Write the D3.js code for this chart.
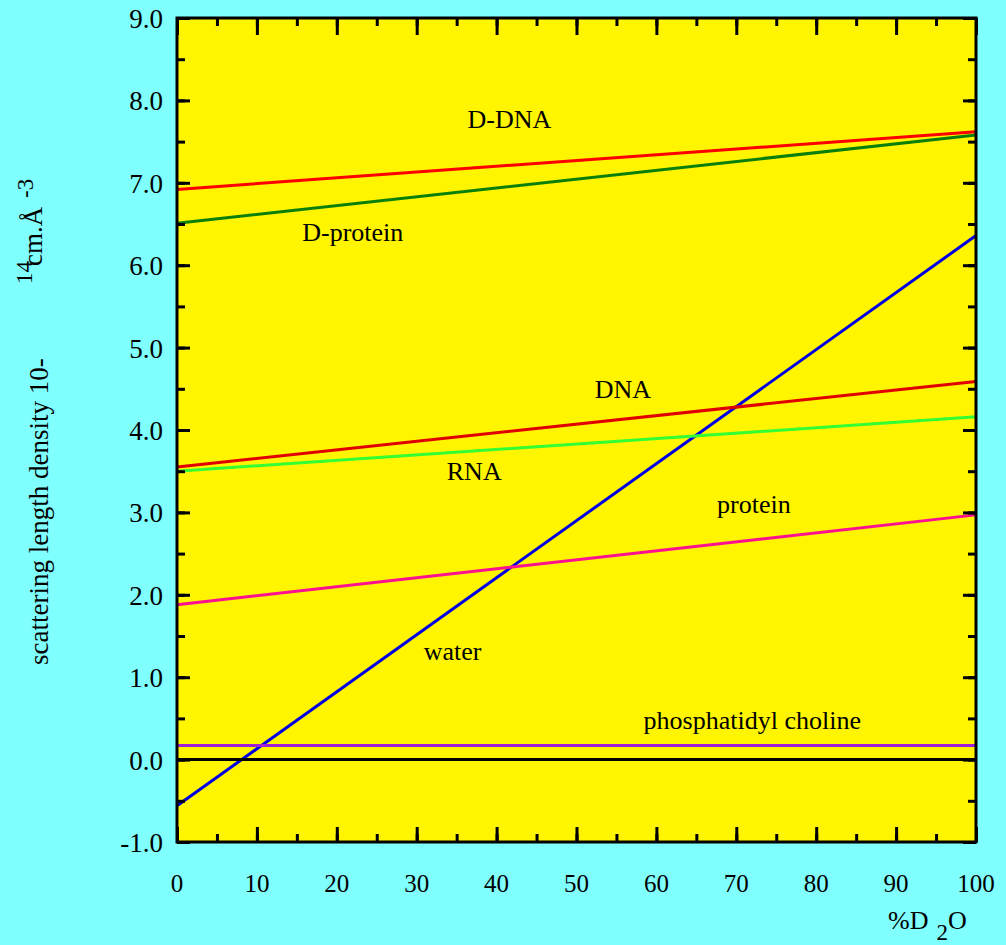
<!DOCTYPE html>
<html><head><meta charset="utf-8">
<script src="https://cdn.jsdelivr.net/npm/d3@7"></script>
<style>body{margin:0;background:#80ffff;} svg{display:block;}</style>
</head><body>
<script>
const xTicks = [0,10,20,30,40,50,60,70,80,90,100];
const yTicks = [-1.0,0.0,1.0,2.0,3.0,4.0,5.0,6.0,7.0,8.0,9.0];
const seriesNames = ["D-DNA","D-protein","water","DNA","RNA","protein","phosphatidyl choline","zero"];
const seriesX = [0,100];
const seriesStart = [6.92,6.51,-0.56,3.55,3.50,1.88,0.17,0.0];
const seriesEnd   = [7.62,7.58,6.36,4.59,4.16,2.97,0.17,0.0];
const seriesColors = ["#ff0000","#0a800a","#0000e0","#e00000","#33ff33","#ff1090","#a020d8","#000000"];
const labelText = ["D-DNA","D-protein","DNA","RNA","protein","water","phosphatidyl choline"];
const labelX = [41.6,22.0,55.8,37.2,72.2,34.5,72.0];
const labelY = [7.66,6.29,4.39,3.39,2.99,1.21,0.37];

const W=1006,H=945;
const svg=d3.select("body").append("svg").attr("width",W).attr("height",H);
svg.append("rect").attr("width",W).attr("height",H).attr("fill","#80ffff");
const x=d3.scaleLinear().domain([0,100]).range([177,976]);
const y=d3.scaleLinear().domain([-1,9]).range([842,18]);
svg.append("rect").attr("x",x(0)).attr("y",y(9)).attr("width",x(100)-x(0)).attr("height",y(-1)-y(9)).attr("fill","#fff500");

const line=d3.line().x(d=>x(d[0])).y(d=>y(d[1]));
seriesNames.forEach((n,i)=>{
  svg.append("path").datum([[seriesX[0],seriesStart[i]],[seriesX[1],seriesEnd[i]]])
    .attr("d",line).attr("fill","none").attr("stroke",seriesColors[i]).attr("stroke-width",3);
});

const font="'Liberation Serif','Times New Roman',Times,serif";
const xMinor=d3.range(0,101,5), yMinor=d3.range(-1,9.01,0.5);
function drawAxis(axis,transform,tickSize,values){
  const g=svg.append("g").attr("transform",transform).call(axis.tickValues(values).tickSize(tickSize).tickFormat(""));
  g.select(".domain").remove();
  g.selectAll("line").attr("stroke","#000").attr("stroke-width",3);
}
drawAxis(d3.axisBottom(x),`translate(0,${y(-1)})`,-15,xTicks);
drawAxis(d3.axisBottom(x),`translate(0,${y(-1)})`,-8,xMinor);
drawAxis(d3.axisTop(x),`translate(0,${y(9)})`,-17,xTicks);
drawAxis(d3.axisTop(x),`translate(0,${y(9)})`,-8,xMinor);
drawAxis(d3.axisLeft(y),`translate(${x(0)},0)`,-13,yTicks);
drawAxis(d3.axisLeft(y),`translate(${x(0)},0)`,-8,yMinor);
drawAxis(d3.axisRight(y),`translate(${x(100)},0)`,-13,yTicks);
drawAxis(d3.axisRight(y),`translate(${x(100)},0)`,-8,yMinor);

svg.append("rect").attr("x",x(0)).attr("y",y(9)).attr("width",x(100)-x(0)).attr("height",y(-1)-y(9))
  .attr("fill","none").attr("stroke","#000").attr("stroke-width",3);

svg.append("g").selectAll("text").data(xTicks).join("text")
  .attr("x",d=>x(d)).attr("y",892).attr("text-anchor","middle")
  .attr("font-family",font).attr("font-size",25).attr("fill","#000").text(d=>d);
svg.append("g").selectAll("text").data(yTicks).join("text")
  .attr("x",163).attr("y",d=>y(d)+10).attr("text-anchor","end")
  .attr("font-family",font).attr("font-size",27).attr("fill","#000").text(d=>d.toFixed(1));

labelText.forEach((t,i)=>{
  svg.append("text").attr("x",x(labelX[i])).attr("y",y(labelY[i])).attr("text-anchor","middle")
    .attr("font-family",font).attr("font-size",26).attr("fill","#000").text(t);
});

const xt=svg.append("text").attr("x",888).attr("y",929).attr("font-family",font).attr("font-size",26).attr("fill","#000");
xt.append("tspan").text("%D");
xt.append("tspan").attr("dy",11).attr("dx",8).attr("font-size",23).text("2");
xt.append("tspan").attr("dy",-11).text("O");

function rot(txt,bx,by,size){
  svg.append("text").attr("transform",`translate(${bx},${by}) rotate(-90)`)
    .attr("font-family",font).attr("font-size",size).attr("fill","#000").text(txt);
}
rot("scattering length density 10-",48,665,27);
rot("14",32,284,23);
rot("cm.Å",42,266,27);
rot("-3",33,198,23);
</script>
</body></html>
